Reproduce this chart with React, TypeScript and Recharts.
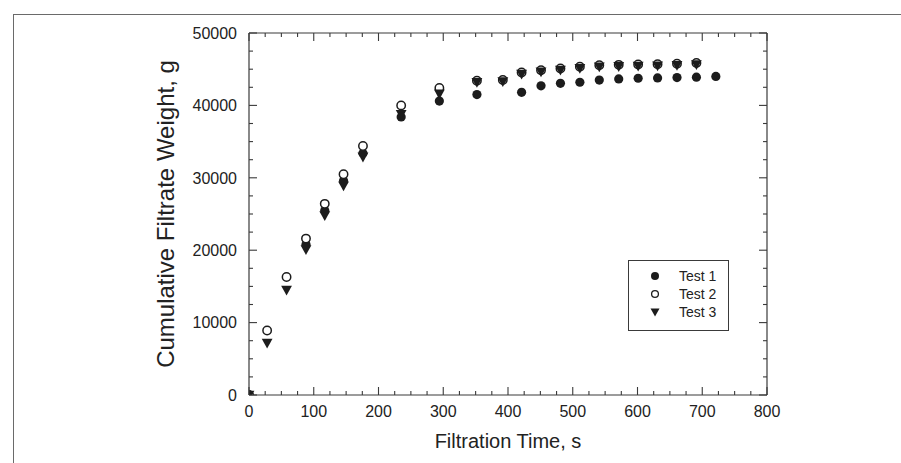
import React from 'react';
import { ScatterChart, Scatter, XAxis, YAxis, Label } from 'recharts';

// Filtration time (s) and cumulative filtrate weight (g)
const test1Time = [0, 88, 117, 146, 176, 235, 294, 352, 421, 451, 481, 511, 541, 571, 601, 631, 661, 691, 721];
const test1Weight = [0, 20800, 25500, 29600, 33400, 38400, 40600, 41500, 41800, 42700, 43050, 43200, 43500, 43650, 43750, 43800, 43850, 43900, 44000];

const test2Time = [0, 28, 58, 88, 117, 146, 176, 235, 294, 352, 392, 421, 451, 481, 511, 541, 571, 601, 631, 661, 691];
const test2Weight = [0, 8900, 16300, 21600, 26400, 30500, 34400, 40000, 42400, 43400, 43500, 44550, 44850, 45100, 45350, 45550, 45600, 45650, 45700, 45750, 45850];

const test3Time = [0, 28, 58, 88, 117, 146, 176, 235, 294, 352, 392, 421, 451, 481, 511, 541, 571, 601, 631, 661, 691];
const test3Weight = [0, 7200, 14500, 20100, 24800, 28900, 32900, 38800, 41600, 43200, 43300, 44350, 44650, 44900, 45150, 45350, 45400, 45450, 45500, 45550, 45650];

const seriesNames = ['Test 1', 'Test 2', 'Test 3'];

const xMajorTicks = [0, 100, 200, 300, 400, 500, 600, 700, 800];
const xAllTicks = [0, 25, 50, 75, 100, 125, 150, 175, 200, 225, 250, 275, 300, 325, 350, 375, 400, 425, 450, 475, 500, 525, 550, 575, 600, 625, 650, 675, 700, 725, 750, 775, 800];
const yMajorTicks = [0, 10000, 20000, 30000, 40000, 50000];
const yAllTicks = [0, 2500, 5000, 7500, 10000, 12500, 15000, 17500, 20000, 22500, 25000, 27500, 30000, 32500, 35000, 37500, 40000, 42500, 45000, 47500, 50000];

const xTitle = 'Filtration Time, s';
const yTitle = 'Cumulative Filtrate Weight, g';

const toRows = (times: number[], weights: number[]) => times.map((t, i) => ({ t, w: weights[i] }));
const test1Data = toRows(test1Time, test1Weight);
const test2Data = toRows(test2Time, test2Weight);
const test3Data = toRows(test3Time, test3Weight);

const CHART_W = 901;
const CHART_H = 463;
const MARGIN = { top: 32, right: 133, bottom: 0, left: 0 };
const X_AXIS_H = 68;
const Y_AXIS_W = 249;
const PLOT_W = CHART_W - MARGIN.right - Y_AXIS_W - 1;
const PLOT_H = CHART_H - MARGIN.top - X_AXIS_H - 1;

const INK = '#1c1c1c';
const AXIS = '#3a3a3a';
const FONT = '"Liberation Sans", Arial, Helvetica, sans-serif';

const FilledCircle = (p: any) => <circle cx={p.cx} cy={p.cy} r={4.6} fill={INK} />;
const OpenCircle = (p: any) => (
  <circle cx={p.cx} cy={p.cy} r={4.2} fill="#fff" stroke={INK} strokeWidth={1.5} />
);
const DownTriangle = (p: any) => (
  <polygon
    points={`${p.cx - 5.4},${p.cy - 4.2} ${p.cx + 5.4},${p.cy - 4.2} ${p.cx},${p.cy + 5.6}`}
    fill={INK}
  />
);
const NoShape = () => <g />;

// labels only on the main axes
const BottomLabel = (p: any) => {
  const v = p.payload.value;
  if (!xMajorTicks.includes(v)) return <g />;
  return (
    <text x={p.x} y={p.y + 11} dy="0.71em" textAnchor="middle" fontSize={16} fill="#222" fontFamily={FONT}>
      {v}
    </text>
  );
};

const LeftLabel = (p: any) => {
  const v = p.payload.value;
  if (!yMajorTicks.includes(v)) return <g />;
  return (
    <text x={p.x - 12} y={p.y} dy="0.36em" textAnchor="end" fontSize={16} fill="#222" fontFamily={FONT}>
      {v}
    </text>
  );
};

// inward tick marks on top and bottom frame edges
const TopBottomTicks = (p: any) => {
  const v = p.payload.value;
  const len = xMajorTicks.includes(v) ? 8 : 4;
  const yb = p.y + PLOT_H;
  return (
    <g>
      <path d={`M${p.x},${p.y}V${p.y + len}`} stroke={AXIS} strokeWidth={1.1} fill="none" />
      <path d={`M${p.x},${yb}V${yb - len}`} stroke={AXIS} strokeWidth={1.1} fill="none" />
    </g>
  );
};

// inward tick marks on right and left frame edges
const RightLeftTicks = (p: any) => {
  const v = p.payload.value;
  const len = yMajorTicks.includes(v) ? 8 : 4;
  const xl = p.x - PLOT_W;
  return (
    <g>
      <path d={`M${p.x},${p.y}H${p.x - len}`} stroke={AXIS} strokeWidth={1.1} fill="none" />
      <path d={`M${xl},${p.y}H${xl + len}`} stroke={AXIS} strokeWidth={1.1} fill="none" />
    </g>
  );
};

const LegendBox = () => {
  const rows = [
    { name: seriesNames[0], kind: 0 },
    { name: seriesNames[1], kind: 1 },
    { name: seriesNames[2], kind: 2 },
  ];
  return (
    <div
      style={{
        position: 'absolute',
        left: 628,
        top: 260,
        width: 101,
        height: 71,
        border: `1px solid ${AXIS}`,
        background: '#fff',
        boxSizing: 'border-box',
      }}
    >
      <svg width={101} height={71} style={{ position: 'absolute', left: -1, top: -1 }}>
        {rows.map((r, i) => {
          const cy = 16 + i * 18;
          const cx = 27;
          return (
            <g key={r.name}>
              {r.kind === 0 && <circle cx={cx} cy={cy} r={4} fill={INK} />}
              {r.kind === 1 && <circle cx={cx} cy={cy} r={3.4} fill="#fff" stroke={INK} strokeWidth={1.3} />}
              {r.kind === 2 && (
                <polygon points={`${cx - 4.5},${cy - 3.5} ${cx + 4.5},${cy - 3.5} ${cx},${cy + 4.5}`} fill={INK} />
              )}
              <text x={51} y={cy} dy="0.36em" fontSize={14} fill="#222" fontFamily={FONT}>
                {r.name}
              </text>
            </g>
          );
        })}
      </svg>
    </div>
  );
};

export default function App() {
  return (
    <div style={{ position: 'absolute', left: 0, top: 0, width: CHART_W, height: CHART_H, background: '#fff' }}>
      <div
        style={{
          position: 'absolute',
          left: 13,
          top: 14,
          width: 888,
          height: 449,
          borderTop: '1.5px solid #6a6a6a',
          borderLeft: '1.5px solid #6a6a6a',
        }}
      />
      <ScatterChart
        width={CHART_W}
        height={CHART_H}
        margin={MARGIN}
        style={{ position: 'absolute', left: 0, top: 0 }}
      >
        <XAxis
          xAxisId="main"
          dataKey="t"
          type="number"
          domain={[0, 800]}
          ticks={xAllTicks}
          interval={0}
          height={X_AXIS_H}
          tickSize={0}
          tickMargin={0}
          tickLine={false}
          tick={BottomLabel}
          axisLine={{ stroke: AXIS, strokeWidth: 1.2 }}
          allowDataOverflow
        >
          <Label value={xTitle} position="center" dy={12} fontSize={20} fill="#222" fontFamily={FONT} />
        </XAxis>
        <XAxis
          xAxisId="top"
          orientation="top"
          dataKey="t"
          type="number"
          domain={[0, 800]}
          ticks={xAllTicks}
          interval={0}
          height={1}
          tickSize={0}
          tickMargin={0}
          tickLine={false}
          tick={TopBottomTicks}
          axisLine={{ stroke: AXIS, strokeWidth: 1.2 }}
          allowDataOverflow
        />
        <YAxis
          yAxisId="main"
          dataKey="w"
          type="number"
          domain={[0, 50000]}
          ticks={yAllTicks}
          interval={0}
          width={Y_AXIS_W}
          tickSize={0}
          tickMargin={0}
          tickLine={false}
          tick={LeftLabel}
          axisLine={{ stroke: AXIS, strokeWidth: 1.2 }}
          allowDataOverflow
        >
          <Label value={yTitle} position="center" angle={-90} dx={41} fontSize={24} fill="#222" fontFamily={FONT} />
        </YAxis>
        <YAxis
          yAxisId="right"
          orientation="right"
          dataKey="w"
          type="number"
          domain={[0, 50000]}
          ticks={yAllTicks}
          interval={0}
          width={1}
          tickSize={0}
          tickMargin={0}
          tickLine={false}
          tick={RightLeftTicks}
          axisLine={{ stroke: AXIS, strokeWidth: 1.2 }}
          allowDataOverflow
        />
        <Scatter
          name="frame"
          data={test1Data}
          xAxisId="top"
          yAxisId="right"
          shape={NoShape}
          legendType="none"
          isAnimationActive={false}
        />
        <Scatter
          name={seriesNames[0]}
          data={test1Data}
          xAxisId="main"
          yAxisId="main"
          shape={FilledCircle}
          isAnimationActive={false}
        />
        <Scatter
          name={seriesNames[1]}
          data={test2Data}
          xAxisId="main"
          yAxisId="main"
          shape={OpenCircle}
          isAnimationActive={false}
        />
        <Scatter
          name={seriesNames[2]}
          data={test3Data}
          xAxisId="main"
          yAxisId="main"
          shape={DownTriangle}
          isAnimationActive={false}
        />
      </ScatterChart>
      <LegendBox />
    </div>
  );
}
